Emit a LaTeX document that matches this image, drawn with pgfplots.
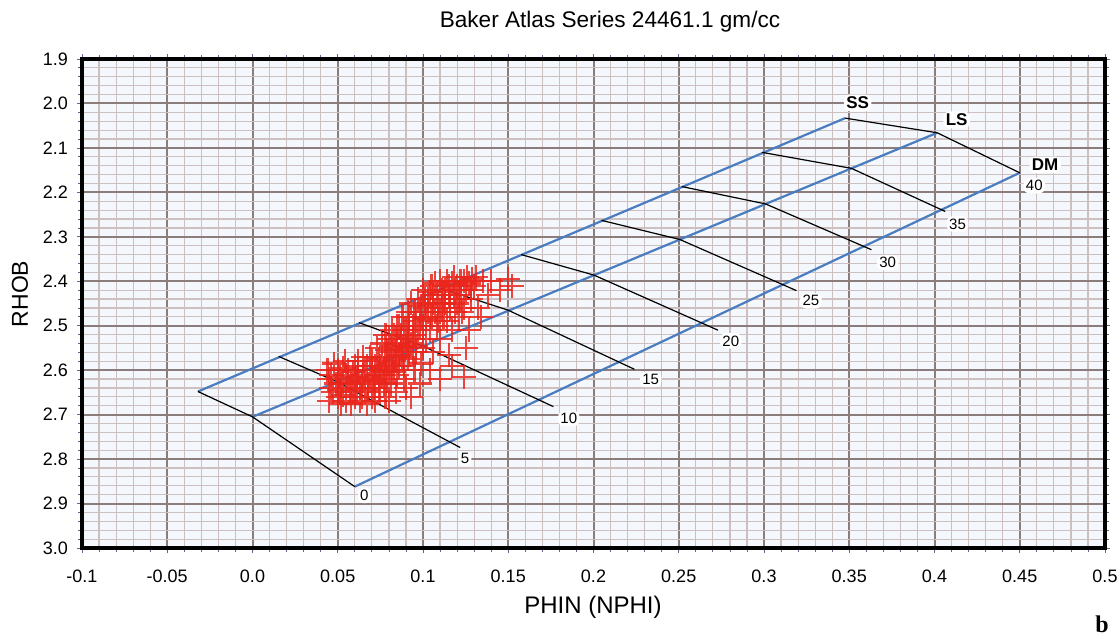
\documentclass[border=0pt]{standalone}
\usepackage{pgfplots}
\pgfplotsset{compat=1.18}
\usepackage{fontspec}
\setmainfont{Liberation Sans}
\newfontfamily\serifb{Liberation Serif}
\definecolor{majgrid}{RGB}{140,124,124}
\definecolor{mingrid}{RGB}{206,192,192}
\definecolor{bgc}{RGB}{244,247,251}
\definecolor{lineblue}{RGB}{74,124,192}
\definecolor{crossred}{RGB}{234,38,28}
\definecolor{tickc}{RGB}{110,95,150}
\begin{document}
\begin{tikzpicture}[x=1pt,y=1pt]
\useasboundingbox (0,0) rectangle (560,320);
\begin{axis}[
  at={(41pt,46pt)}, anchor=south west,
  scale only axis, width=511.5pt, height=244.5pt,
  xmin=-0.1, xmax=0.5, ymin=1.9, ymax=3.0,
  y dir=reverse,
  xtick={-0.1,-0.05,0,0.05,0.1,0.15,0.2,0.25,0.3,0.35,0.4,0.45,0.5},
  xticklabels={-0.1,-0.05,0.0,0.05,0.1,0.15,0.2,0.25,0.3,0.35,0.4,0.45,0.5},
  ytick={1.9,2.0,2.1,2.2,2.3,2.4,2.5,2.6,2.7,2.8,2.9,3.0},
  yticklabels={1.9,2.0,2.1,2.2,2.3,2.4,2.5,2.6,2.7,2.8,2.9,3.0},
  minor tick num=4,
  grid=both,
  major grid style={majgrid, line width=1pt},
  minor grid style={mingrid, line width=0.6pt},
  axis line style={black, line width=1.7pt},
  tick align=outside,
  major tick length=2.5pt, minor tick length=2pt,
  tick style={tickc, line width=0.4pt},
  ticklabel style={font=\fontsize{9}{10}\selectfont},
  xticklabel style={yshift=-5pt},
  yticklabel style={xshift=-1pt},
  /pgf/number format/assume math mode=true,
  axis background/.style={fill=bgc},
  clip=true,
]
% red data crosses (NPHI, RHOB)
\addplot[only marks, mark=+, mark size=6pt, crossred, mark options={line width=1.05pt, opacity=0.85}] table {
x y
0.045 2.620
0.047 2.650
0.050 2.600
0.050 2.660
0.052 2.630
0.055 2.610
0.055 2.670
0.057 2.640
0.060 2.590
0.060 2.620
0.060 2.660
0.062 2.600
0.063 2.640
0.065 2.570
0.065 2.610
0.066 2.650
0.068 2.630
0.070 2.580
0.070 2.600
0.070 2.660
0.072 2.620
0.073 2.550
0.074 2.640
0.075 2.590
0.076 2.610
0.078 2.570
0.078 2.660
0.080 2.530
0.080 2.600
0.081 2.630
0.082 2.560
0.083 2.580
0.085 2.540
0.085 2.610
0.087 2.520
0.088 2.570
0.090 2.550
0.090 2.640
0.092 2.500
0.045 2.670
0.048 2.585
0.058 2.675
0.053 2.595
0.067 2.675
0.080 2.670
0.046 2.640
0.051 2.645
0.056 2.625
0.059 2.605
0.061 2.640
0.064 2.625
0.067 2.590
0.069 2.615
0.071 2.640
0.073 2.600
0.074 2.575
0.077 2.595
0.079 2.620
0.079 2.555
0.082 2.600
0.084 2.570
0.086 2.590
0.088 2.545
0.089 2.620
0.091 2.575
0.093 2.660
0.095 2.600
0.098 2.630
0.104 2.600
0.110 2.620
0.117 2.590
0.124 2.615
0.115 2.565
0.099 2.585
0.076 2.540
0.078 2.520
0.082 2.510
0.084 2.530
0.086 2.500
0.088 2.480
0.089 2.510
0.091 2.530
0.093 2.540
0.094 2.560
0.096 2.560
0.083 2.520
0.085 2.500
0.087 2.530
0.090 2.510
0.092 2.480
0.093 2.450
0.095 2.520
0.096 2.490
0.097 2.440
0.098 2.470
0.100 2.420
0.100 2.500
0.101 2.460
0.102 2.530
0.103 2.440
0.105 2.410
0.105 2.480
0.106 2.450
0.108 2.430
0.108 2.500
0.110 2.400
0.110 2.470
0.112 2.440
0.113 2.420
0.114 2.490
0.115 2.410
0.116 2.460
0.118 2.390
0.118 2.430
0.120 2.450
0.120 2.410
0.122 2.400
0.123 2.470
0.125 2.420
0.126 2.390
0.128 2.440
0.130 2.410
0.132 2.460
0.135 2.400
0.138 2.430
0.140 2.400
0.145 2.420
0.150 2.395
0.152 2.410
0.134 2.480
0.127 2.510
0.125 2.550
0.110 2.530
0.117 2.510
0.104 2.510
0.107 2.470
0.109 2.450
0.111 2.420
0.114 2.400
0.116 2.440
0.119 2.420
0.121 2.430
0.124 2.400
0.106 2.430
0.103 2.470
0.099 2.480
0.097 2.510
0.094 2.500
0.091 2.470
0.112 2.480
0.121 2.480
0.128 2.420
0.131 2.390
0.101 2.440
0.100 2.550
0.106 2.560
0.044 2.600
0.046 2.610
0.049 2.630
0.051 2.615
0.053 2.655
0.054 2.580
0.056 2.600
0.058 2.630
0.059 2.650
0.061 2.615
0.062 2.580
0.064 2.660
0.066 2.600
0.068 2.645
0.069 2.570
0.071 2.625
0.072 2.590
0.074 2.610
0.075 2.650
0.077 2.630
0.078 2.605
0.080 2.585
0.081 2.545
0.083 2.605
0.084 2.555
0.086 2.565
0.087 2.550
0.089 2.590
0.091 2.520
0.092 2.560
0.094 2.530
0.095 2.470
0.096 2.545
0.098 2.500
0.099 2.455
0.102 2.485
0.104 2.425
0.107 2.405
0.109 2.490
0.111 2.460
0.113 2.450
0.115 2.430
0.117 2.405
0.119 2.470
0.122 2.440
0.124 2.460
0.127 2.405
0.129 2.395
0.052 2.675
0.063 2.670
0.072 2.670
0.084 2.650
};
% sandstone line
\addplot[lineblue, line width=1.1pt] coordinates {(-0.032,2.648) (0.3476,2.033)};
% limestone line
\addplot[lineblue, line width=1.1pt] coordinates {(0.0,2.705) (0.4016,2.066)};
% dolomite line
\addplot[lineblue, line width=1.1pt] coordinates {(0.060,2.862) (0.450,2.156)};
% porosity lines
\addplot[black, line width=0.6pt] coordinates {(-0.032,2.648) (0.0,2.705) (0.060,2.862)};
\addplot[black, line width=0.6pt] coordinates {(0.0153,2.569) (0.049,2.625) (0.1218,2.774)};
\addplot[black, line width=0.6pt] coordinates {(0.0624,2.493) (0.0995,2.545) (0.1765,2.682)};
\addplot[black, line width=0.6pt] coordinates {(0.1106,2.416) (0.1499,2.465) (0.224,2.598)};
\addplot[black, line width=0.6pt] coordinates {(0.1576,2.340) (0.2002,2.386) (0.273,2.510)};
\addplot[black, line width=0.6pt] coordinates {(0.2047,2.263) (0.2506,2.306) (0.319,2.421)};
\addplot[black, line width=0.6pt] coordinates {(0.2518,2.187) (0.3009,2.226) (0.363,2.329)};
\addplot[black, line width=0.6pt] coordinates {(0.2988,2.110) (0.3513,2.146) (0.4063,2.243)};
\addplot[black, line width=0.6pt] coordinates {(0.3476,2.033) (0.4016,2.066) (0.450,2.156)};
% labels
\tikzset{plab/.style={anchor=west, fill=white, rounded corners=3pt, inner sep=1.2pt, font=\fontsize{7.5}{8}\selectfont}}
\node[plab] at (axis cs:0.0615,2.882) {0\hspace{13pt}};
\node[plab] at (axis cs:0.1205,2.799) {5\hspace{15pt}};
\node[plab] at (axis cs:0.179,2.709) {10\hspace{15pt}};
\node[plab] at (axis cs:0.227,2.621) {15\hspace{10pt}};
\node[plab] at (axis cs:0.274,2.534) {20\hspace{15pt}};
\node[plab] at (axis cs:0.321,2.444) {25\hspace{10pt}};
\node[plab] at (axis cs:0.366,2.358) {30\hspace{15pt}};
\node[plab] at (axis cs:0.407,2.271) {35\hspace{10pt}};
\node[plab] at (axis cs:0.452,2.185) {40\hspace{10pt}};
\tikzset{mlab/.style={anchor=west, fill=white, rounded corners=3pt, inner sep=1.2pt, font=\bfseries\fontsize{8.5}{10}\selectfont}}
\node[mlab] at (axis cs:0.3466,1.999) {SS\hspace{10pt}};
\node[mlab] at (axis cs:0.405,2.037) {LS\hspace{8pt}};
\node[mlab] at (axis cs:0.4555,2.138) {DM\hspace{8pt}};
\end{axis}
\node[font=\fontsize{11.3}{13}\selectfont] at (305,309) {Baker Atlas Series 24461.1 gm/cc};
\node[font=\fontsize{11.5}{13}\selectfont, rotate=90] at (10,173) {RHOB};
\node[font=\fontsize{12}{14}\selectfont] at (296.5,16.5) {PHIN (NPHI)};
\node[font=\serifb\bfseries\fontsize{12}{14}\selectfont] at (551,8) {b};
\end{tikzpicture}
\end{document}
